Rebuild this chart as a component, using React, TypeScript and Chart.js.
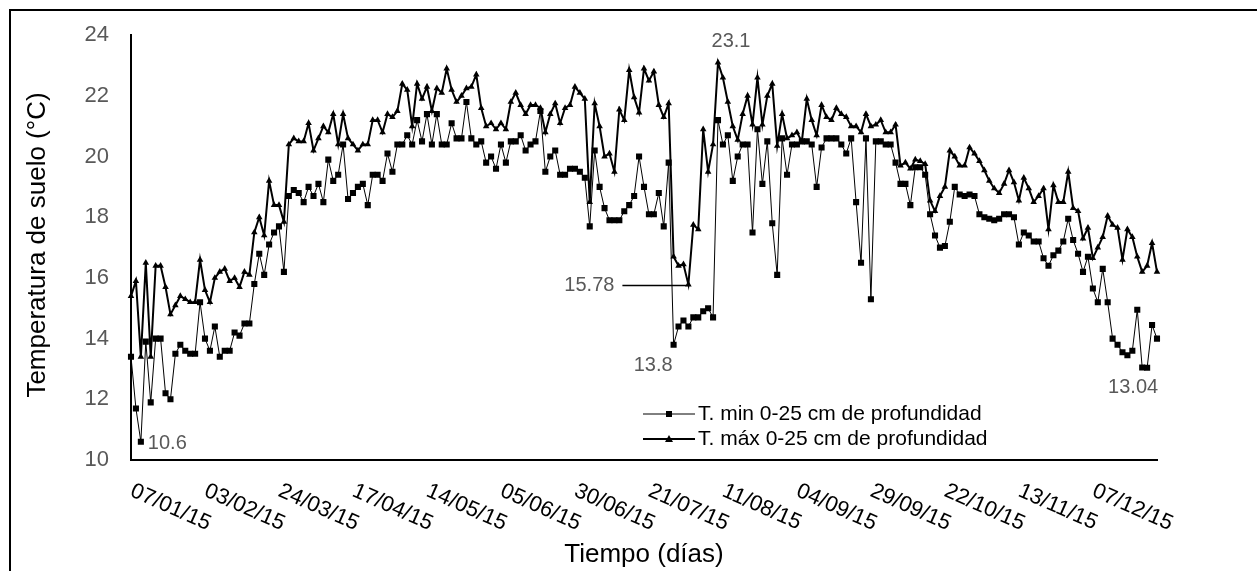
import React, { useEffect, useRef } from "react";
import { Chart, registerables } from "chart.js";

Chart.register(...registerables);

const tickLabels: string[] = [
  "07/01/15", "03/02/15", "24/03/15", "17/04/15", "14/05/15", "05/06/15", "30/06/15",
  "21/07/15", "11/08/15", "04/09/15", "29/09/15", "22/10/15", "13/11/15", "07/12/15",
];
const labelEvery = 15;

const tMin: number[] = [
  13.4, 11.7, 10.6, 13.9, 11.9, 14.0, 14.0, 12.2, 12.0, 13.5,
  13.8, 13.6, 13.5, 13.5, 15.2, 14.0, 13.6, 14.4, 13.4, 13.6,
  13.6, 14.2, 14.1, 14.5, 14.5, 15.8, 16.8, 16.1, 17.1, 17.5,
  17.7, 16.2, 18.7, 18.9, 18.8, 18.5, 19.0, 18.7, 19.1, 18.5,
  19.9, 19.2, 19.4, 20.4, 18.6, 18.8, 19.0, 19.1, 18.4, 19.4,
  19.4, 19.2, 20.1, 19.5, 20.4, 20.4, 20.7, 20.4, 21.2, 20.5,
  21.4, 20.4, 21.4, 20.4, 20.4, 21.1, 20.6, 20.6, 21.8, 20.6,
  20.4, 20.5, 19.8, 20.0, 19.6, 20.4, 19.8, 20.5, 20.5, 20.7,
  20.2, 20.4, 20.5, 21.5, 19.5, 20.0, 20.2, 19.4, 19.4, 19.6,
  19.6, 19.5, 19.3, 17.7, 20.2, 19.0, 18.3, 17.9, 17.9, 17.9,
  18.2, 18.4, 18.7, 20.0, 19.0, 18.1, 18.1, 18.8, 17.7, 19.8,
  13.8, 14.4, 14.6, 14.4, 14.7, 14.7, 14.9, 15.0, 14.7, 21.2,
  20.4, 20.7, 19.2, 20.0, 20.4, 20.4, 17.5, 20.9, 19.1, 20.5,
  17.8, 16.1, 20.6, 19.4, 20.4, 20.4, 20.5, 20.5, 20.4, 19.0,
  20.3, 20.6, 20.6, 20.6, 20.4, 20.1, 20.6, 18.5, 16.5, 20.6,
  15.3, 20.5, 20.5, 20.4, 20.4, 19.8, 19.1, 19.1, 18.4, 19.65,
  19.65, 19.4, 18.1, 17.4, 17.0, 17.05, 17.85, 19.0, 18.75, 18.7,
  18.75, 18.7, 18.1, 18.0, 17.95, 17.9, 17.95, 18.1, 18.1, 18.0,
  17.1, 17.5, 17.4, 17.2, 17.2, 16.65, 16.4, 16.75, 16.9, 17.2,
  17.95, 17.25, 16.8, 16.2, 16.7, 15.65, 15.2, 16.3, 15.2, 14.0,
  13.8, 13.55, 13.45, 13.6, 14.95, 13.05, 13.04, 14.45, 14.0,
];

const tMax: number[] = [
  15.4, 15.9, 13.4, 16.5, 13.4, 16.4, 16.4, 15.7, 14.8, 15.1,
  15.4, 15.3, 15.2, 15.2, 16.6, 15.6, 15.2, 16.0, 16.2, 16.3,
  15.9, 16.0, 15.7, 16.2, 16.1, 17.5, 18.0, 17.4, 19.2, 18.4,
  18.4, 17.85, 20.4, 20.6, 20.5, 20.5, 21.1, 20.2, 20.6, 21.0,
  20.8, 21.4, 20.4, 21.4, 20.6, 20.4, 20.2, 20.4, 20.4, 21.2,
  21.2, 20.8, 21.4, 21.3, 21.5, 22.4, 22.2, 21.0, 22.4, 21.9,
  22.3, 21.5, 22.25, 22.1, 22.9, 22.2, 21.8, 22.0, 22.25, 22.3,
  22.7, 21.6, 21.0, 21.1, 20.9, 21.1, 20.9, 21.8, 22.1, 21.7,
  21.4, 21.7, 21.7, 21.6, 20.8, 21.4, 21.75, 21.1, 21.6, 21.7,
  22.3, 22.1, 21.9, 18.5, 21.75, 21.0, 20.0, 20.1, 19.5, 21.55,
  21.2, 22.85, 21.95, 21.45, 22.9, 22.5, 22.8, 21.7, 21.3, 21.75,
  16.7, 16.4, 16.45, 15.78, 17.75, 17.6, 20.9, 19.5, 20.4, 23.1,
  22.6, 21.8, 21.0, 20.55, 21.4, 22.0, 21.05, 22.6, 21.05, 22.0,
  22.4, 20.35, 21.4, 20.6, 20.7, 20.8, 20.5, 21.9, 21.2, 20.7,
  21.7, 21.3, 21.2, 21.6, 21.4, 21.3, 21.0, 21.0, 20.8, 21.4,
  21.0, 21.05, 21.2, 20.8, 20.8, 21.05, 19.7, 19.8, 19.6, 19.9,
  19.85, 19.75, 18.55, 18.2, 18.7, 19.0, 20.2, 20.0, 19.7, 19.7,
  20.3, 20.1, 19.85, 19.55, 19.2, 18.95, 18.8, 19.1, 19.55, 19.15,
  18.55, 19.3, 18.95, 18.5, 18.7, 18.95, 17.6, 19.05, 18.5, 18.5,
  19.5, 18.3, 18.2, 17.3, 17.65, 16.65, 17.0, 17.35, 18.05, 17.75,
  17.65, 16.6, 17.6, 17.35, 16.7, 16.2, 16.4, 17.15, 16.2,
];

const seriesNames: string[] = [
  "T. min 0-25 cm de profundidad",
  "T. máx 0-25 cm de profundidad",
];
const xTitle = "Tiempo (días)";
const yTitle = "Temperatura de suelo (°C)";

// indices of the labelled points
const minLowIdx = 2;
const minDropIdx = 110;
const minEndIdx = 206;
const maxPeakIdx = 119;
const maxDropIdx = 113;

const FONT = '"Liberation Sans", Arial, sans-serif';

const categories: string[] = tMin.map((_, i) =>
  i % labelEvery === 0 && tickLabels[i / labelEvery] ? tickLabels[i / labelEvery] : ""
);

const overlayPlugin = {
  id: "overlay",
  beforeDraw(chart: any) {
    const ctx = chart.ctx;
    ctx.save();
    ctx.fillStyle = "#fff";
    ctx.fillRect(0, 0, chart.width, chart.height);
    ctx.strokeStyle = "#000";
    ctx.lineWidth = 2;
    ctx.strokeRect(10, 10, 3000, 3000);
    ctx.restore();
  },
  afterDraw(chart: any) {
    const ctx = chart.ctx;
    const xs = chart.scales.x;
    const area = chart.chartArea;
    ctx.save();
    // x tick labels, rotated clockwise
    ctx.fillStyle = "#000";
    ctx.font = `22px ${FONT}`;
    ctx.textAlign = "left";
    ctx.textBaseline = "top";
    tickLabels.forEach((t, k) => {
      const x = xs.getPixelForValue(k * labelEvery);
      ctx.save();
      ctx.translate(x + 5, area.bottom + 20);
      ctx.rotate((24 * Math.PI) / 180);
      ctx.fillText(t, 0, 0);
      ctx.restore();
    });
    // axis titles
    ctx.font = `26px ${FONT}`;
    ctx.textAlign = "center";
    ctx.textBaseline = "middle";
    ctx.fillText(xTitle, (area.left + area.right) / 2, 555);
    ctx.save();
    ctx.translate(38, 245);
    ctx.rotate(-Math.PI / 2);
    ctx.fillText(yTitle, 0, 0);
    ctx.restore();

    // legend
    const legendRows = [414, 439];
    ctx.font = `21px ${FONT}`;
    ctx.textAlign = "left";
    ctx.textBaseline = "middle";
    legendRows.forEach((ly, i) => {
      ctx.strokeStyle = "#000";
      ctx.lineWidth = i === 0 ? 1 : 2;
      ctx.beginPath();
      ctx.moveTo(643, ly);
      ctx.lineTo(695, ly);
      ctx.stroke();
      ctx.fillStyle = "#000";
      if (i === 0) {
        ctx.fillRect(666, ly - 3, 6, 6);
      } else {
        ctx.beginPath();
        ctx.moveTo(669, ly - 4);
        ctx.lineTo(673, ly + 3);
        ctx.lineTo(665, ly + 3);
        ctx.closePath();
        ctx.fill();
      }
      ctx.fillText(seriesNames[i], 698, ly);
    });

    // data labels
    const minMeta = chart.getDatasetMeta(0).data;
    const maxMeta = chart.getDatasetMeta(1).data;
    ctx.fillStyle = "#595959";
    ctx.font = `20px ${FONT}`;
    ctx.textBaseline = "middle";
    let p = minMeta[minLowIdx];
    ctx.textAlign = "left";
    ctx.fillText(String(tMin[minLowIdx]), p.x + 7, p.y + 2);
    p = minMeta[minDropIdx];
    ctx.textAlign = "right";
    ctx.fillText(String(tMin[minDropIdx]), p.x - 1, p.y + 21);
    p = maxMeta[maxPeakIdx];
    ctx.textAlign = "center";
    ctx.fillText(String(tMax[maxPeakIdx]), p.x + 13, p.y - 21);
    p = maxMeta[maxDropIdx];
    ctx.textAlign = "right";
    ctx.fillText(String(tMax[maxDropIdx]), p.x - 74, p.y + 1);
    ctx.strokeStyle = "#000";
    ctx.lineWidth = 1.5;
    ctx.beginPath();
    ctx.moveTo(p.x - 66, p.y + 1);
    ctx.lineTo(p.x - 2, p.y + 1);
    ctx.stroke();
    p = minMeta[minEndIdx];
    ctx.textAlign = "center";
    ctx.fillText(String(tMin[minEndIdx]), p.x - 14, p.y + 20);
    ctx.restore();
  },
};

export default function App() {
  const ref = useRef<HTMLCanvasElement | null>(null);
  useEffect(() => {
    if (!ref.current) return;
    const chart = new Chart(ref.current, {
      type: "line",
      data: {
        labels: categories,
        datasets: [
          {
            label: seriesNames[0],
            data: tMin,
            borderColor: "#000",
            backgroundColor: "#000",
            borderWidth: 1,
            pointStyle: "rect",
            pointRadius: 4.3,
            pointBorderWidth: 0,
            pointBackgroundColor: "#000",
            tension: 0,
            order: 1,
          },
          {
            label: seriesNames[1],
            data: tMax,
            borderColor: "#000",
            backgroundColor: "#000",
            borderWidth: 2,
            pointStyle: "triangle",
            pointRadius: 3.8,
            pointBorderWidth: 0,
            pointBackgroundColor: "#000",
            tension: 0,
            order: 0,
          },
        ],
      },
      options: {
        responsive: false,
        animation: false,
        devicePixelRatio: 1,
        layout: { padding: { top: 32, right: 100, left: 0, bottom: 0 } },
        plugins: { legend: { display: false }, tooltip: { enabled: false } },
        scales: {
          x: {
            type: "category",
            offset: false,
            grid: { display: false, drawTicks: false },
            border: { display: true, color: "#000", width: 2 },
            ticks: { display: false, autoSkip: false },
            afterFit: (s: any) => {
              s.height = 111;
            },
          },
          y: {
            min: 10,
            max: 24,
            grid: { display: false, drawTicks: false },
            border: { display: true, color: "#000", width: 2 },
            ticks: {
              stepSize: 2,
              color: "#595959",
              padding: 22,
              font: { family: FONT, size: 22 },
            },
            afterFit: (s: any) => {
              s.width = 131;
            },
          },
        },
      },
      plugins: [overlayPlugin],
    });
    return () => chart.destroy();
  }, []);
  return (
    <div style={{ position: "fixed", left: 0, top: 0, width: 1257, height: 571, background: "#fff" }}>
      <canvas ref={ref} width={1257} height={571} style={{ display: "block" }} />
    </div>
  );
}
